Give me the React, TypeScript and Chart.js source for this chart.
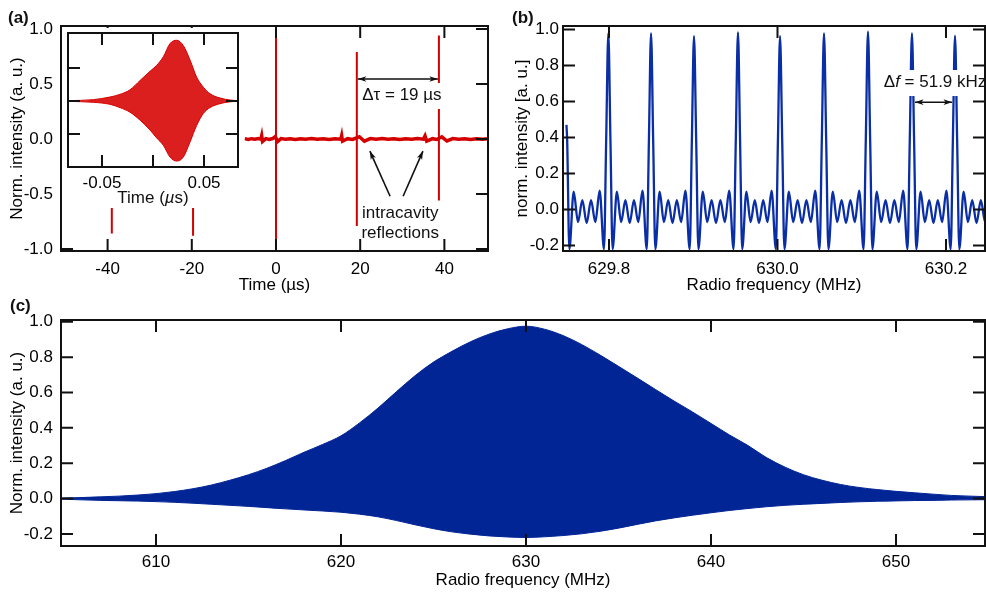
import React, { useEffect, useRef } from 'react';
import { Chart, registerables } from 'chart.js';

Chart.register(...registerables);

const FONT = '"Liberation Sans", Arial, Helvetica, sans-serif';
Chart.defaults.font.family = FONT;
Chart.defaults.color = '#000';

const RED = '#d40000';
const BLUE = '#0a2ea5';
const NAVY = '#022596';
const INK = '#111';

// ---------------- Panel (a): time trace ----------------
const aXTicks = [-40, -20, 0, 20, 40];
const aYTicks = [-1, -0.5, 0, 0.5, 1];
const aTraceTime = [
  -7.4, -6.6, -5.8, -5.0, -4.2, -3.6, -3.4, -3.2, -2.4, -1.6,
  -0.8, -0.2, 0.4, 1.2, 2.2, 3.4, 4.6, 5.8, 7.0, 8.4,
  9.8, 11.2, 12.6, 14.0, 15.4, 15.6, 15.8, 17.0, 18.2, 19.8,
  21.0, 22.4, 23.8, 25.2, 26.6, 28.0, 29.4, 30.8, 32.2, 33.6,
  35.0, 35.4, 35.8, 37.2, 38.2, 39.4, 40.6, 42.0, 43.4, 44.8,
  46.2, 47.6, 49.0, 50.4,
];
const aTraceValue = [
  0.003, -0.004, 0.003, -0.003, 0.004, -0.002, 0.03, -0.022, 0.003, -0.004,
  0.004, 0.022, -0.022, 0.004, -0.003, 0.003, -0.004, 0.003, -0.003, 0.004,
  -0.003, 0.003, -0.004, 0.003, -0.002, 0.03, -0.02, 0.003, -0.004, 0.02,
  -0.02, 0.004, -0.003, 0.004, -0.003, 0.003, -0.004, 0.003, -0.003, 0.004,
  -0.002, 0.028, -0.02, 0.003, -0.004, 0.02, -0.018, 0.004, -0.003, 0.003,
  -0.004, 0.003, -0.003, 0.002,
];
const aSpikeTime = [-39, -19.7, 0, 19.2, 38.7];
const aSpikeTop = [0.8, 0.8, 0.93, 0.79, 0.94];
const aSpikeBottom = [-0.86, -0.88, -1.05, -0.79, -0.56];
const aDeltaText = 'Δτ = 19 µs';
const aDeltaTextAt = [29.9, 0.4];
const aDeltaArrow = [19.2, 38.7, 0.545];
const aReflText = ['intracavity', 'reflections'];
const aReflTextAt = [29.5, -0.68, -0.855];
const aReflArrows = [
  [27.1, -0.52, 22.3, -0.11],
  [30.2, -0.52, 34.9, -0.11],
];

// inset of (a)
const inXTicks = [-0.05, 0, 0.05];
const inXLabels = ['-0.05', '', '0.05'];
const inYTicks = [-0.5, 0, 0.5];
const inTime = [-0.083, -0.0585, -0.0422, -0.0324, -0.0225, -0.0127, -0.0029, 0.0036, 0.0101, 0.0167, 0.0232, 0.0297, 0.0363, 0.0428, 0.0493, 0.0559, 0.0657, 0.0755, 0.083];
const inUpper = [0.005, 0.02, 0.06, 0.1, 0.17, 0.31, 0.45, 0.54, 0.67, 0.87, 0.92, 0.84, 0.62, 0.36, 0.21, 0.11, 0.045, 0.015, 0.005];
const inLower = [-0.005, -0.02, -0.05, -0.1, -0.17, -0.29, -0.44, -0.56, -0.67, -0.85, -0.91, -0.85, -0.62, -0.37, -0.19, -0.1, -0.04, -0.012, -0.005];

// ---------------- Panel (b): RF comb ----------------
const bXTicks = [629.8, 630.0, 630.2];
const bYTicks = [-0.2, 0, 0.2, 0.4, 0.6, 0.8, 1.0];
const bStartFreq = 629.7495;
const bStartValue = 0.47;
const bPeakFreq = [629.7478, 629.7992, 629.8499, 629.9009, 629.9531, 630.003, 630.0552, 630.1074, 630.1596, 630.2107];
const bPeakHeight = [0.98, 0.978, 0.978, 0.963, 0.983, 0.963, 0.978, 0.987, 0.978, 0.964];
const bLobeOffset = [0.05, 0.1, 0.2, 0.3, 0.4, 0.5, 0.6, 0.7, 0.8, 0.9, 0.95];
const bLobeValue = [0.38, -0.22, 0.1, -0.07, 0.052, -0.075, 0.052, -0.07, 0.105, -0.22, 0.38];
const bDeltaArrow = [630.1632, 630.2072, 0.596];
const bDeltaTextAt = [630.187, 0.708];

// ---------------- Panel (c): RF spectrum ----------------
const cXTicks = [610, 620, 630, 640, 650];
const cYTicks = [-0.2, 0, 0.2, 0.4, 0.6, 0.8, 1.0];
const cFreq = [
  604.9, 606, 607, 608, 609, 610, 611, 612, 613, 614, 615, 616, 617, 618, 619, 620, 621, 622, 623, 624,
  625, 626, 627, 628, 629, 630, 631, 632, 633, 634, 635, 636, 637, 638, 639, 640, 641, 642, 643, 644,
  645, 646, 647, 648, 649, 650, 651, 652, 653, 654, 654.9,
];
const cUpper = [
  0.003, 0.006, 0.01, 0.014, 0.02, 0.028, 0.04, 0.056, 0.077, 0.104, 0.135, 0.172, 0.215, 0.262, 0.306, 0.355, 0.428, 0.512, 0.605, 0.695,
  0.772, 0.833, 0.887, 0.93, 0.96, 0.975, 0.958, 0.922, 0.872, 0.812, 0.748, 0.683, 0.617, 0.552, 0.49, 0.425, 0.36, 0.3, 0.232, 0.178,
  0.135, 0.104, 0.08, 0.063, 0.051, 0.041, 0.033, 0.025, 0.018, 0.014, 0.011,
];
const cLower = [
  -0.003, -0.007, -0.01, -0.012, -0.014, -0.017, -0.021, -0.026, -0.032, -0.038, -0.044, -0.051, -0.058, -0.064, -0.07, -0.077, -0.088, -0.103, -0.124, -0.148,
  -0.17, -0.188, -0.201, -0.211, -0.217, -0.22, -0.216, -0.209, -0.199, -0.185, -0.167, -0.146, -0.126, -0.109, -0.094, -0.08, -0.067, -0.056, -0.046, -0.038,
  -0.032, -0.027, -0.022, -0.018, -0.015, -0.013, -0.011, -0.01, -0.008, -0.007, -0.006,
];

// ---------------- helpers ----------------
const xy = (xs: number[], ys: number[]) => xs.map((x, i) => ({ x, y: ys[i] }));

function buildCombPoints() {
  const pts: { x: number; y: number }[] = [{ x: bStartFreq, y: bStartValue }];
  bPeakFreq.forEach((p, i) => {
    const period = i < bPeakFreq.length - 1 ? bPeakFreq[i + 1] - p : p - bPeakFreq[i - 1];
    const local = [{ x: p, y: bPeakHeight[i] }, ...bLobeOffset.map((o, k) => ({ x: p + o * period, y: bLobeValue[k] }))];
    local.filter((pt) => pt.x > bStartFreq).forEach((pt) => pts.push(pt));
  });
  return pts;
}

const makeFrame = (xTicks: number[], yTicks: number[], len: number) => ({
  id: 'frame',
  afterDraw(chart: any) {
    const { ctx, chartArea } = chart;
    const { left, right, top, bottom } = chartArea;
    const sx = chart.scales.x;
    const sy = chart.scales.y;
    ctx.save();
    ctx.strokeStyle = INK;
    ctx.lineWidth = 2;
    ctx.beginPath();
    xTicks.forEach((v) => {
      const p = sx.getPixelForValue(v);
      ctx.moveTo(p, bottom);
      ctx.lineTo(p, bottom - len);
      ctx.moveTo(p, top);
      ctx.lineTo(p, top + len);
    });
    yTicks.forEach((v) => {
      const p = sy.getPixelForValue(v);
      ctx.moveTo(left, p);
      ctx.lineTo(left + len, p);
      ctx.moveTo(right, p);
      ctx.lineTo(right - len, p);
    });
    ctx.stroke();
    ctx.strokeRect(left, top, right - left, bottom - top);
    ctx.restore();
  },
});

function head(ctx: CanvasRenderingContext2D, x1: number, y1: number, x2: number, y2: number, size = 9) {
  const a = Math.atan2(y2 - y1, x2 - x1);
  ctx.beginPath();
  ctx.moveTo(x2, y2);
  ctx.lineTo(x2 - size * Math.cos(a - 0.32), y2 - size * Math.sin(a - 0.32));
  ctx.lineTo(x2 - size * 0.7 * Math.cos(a), y2 - size * 0.7 * Math.sin(a));
  ctx.lineTo(x2 - size * Math.cos(a + 0.32), y2 - size * Math.sin(a + 0.32));
  ctx.closePath();
  ctx.fill();
}

function arrow(ctx: CanvasRenderingContext2D, x1: number, y1: number, x2: number, y2: number, both: boolean) {
  ctx.beginPath();
  ctx.moveTo(x1, y1);
  ctx.lineTo(x2, y2);
  ctx.stroke();
  head(ctx, x1, y1, x2, y2);
  if (both) head(ctx, x2, y2, x1, y1);
}

function linearAxis(opts: {
  min: number; max: number; ticks: number[]; fmt: (v: number) => string; size: number; vertical: boolean;
  title?: string; titlePad?: any; tickPad: number; display?: boolean;
}) {
  return {
    type: 'linear',
    display: opts.display !== false,
    min: opts.min,
    max: opts.max,
    grid: { display: false, drawTicks: false },
    border: { display: false },
    afterBuildTicks: (s: any) => { s.ticks = opts.ticks.map((value) => ({ value })); },
    afterFit: (s: any) => { if (opts.vertical) s.width = opts.size; else s.height = opts.size; },
    ticks: {
      padding: opts.tickPad,
      autoSkip: false,
      maxRotation: 0,
      minRotation: 0,
      color: '#000',
      font: { size: 17, family: FONT },
      callback: (v: any) => opts.fmt(Number(v)),
    },
    title: opts.title
      ? { display: true, text: opts.title, color: '#000', font: { size: 17, family: FONT }, padding: opts.titlePad }
      : { display: false },
  };
}

const baseOptions = (padding: any) => ({
  responsive: false,
  maintainAspectRatio: false,
  animation: false,
  events: [],
  layout: { padding },
  plugins: { legend: { display: false }, tooltip: { enabled: false } },
});

// ---------------- chart configs ----------------
const annA = {
  id: 'annA',
  afterDatasetsDraw(chart: any) {
    const { ctx } = chart;
    const x = chart.scales.x;
    const y = chart.scales.y;
    ctx.save();
    ctx.font = `17px ${FONT}`;
    ctx.textAlign = 'center';
    ctx.textBaseline = 'middle';
    const tx = x.getPixelForValue(aDeltaTextAt[0]);
    const ty = y.getPixelForValue(aDeltaTextAt[1]);
    const w = ctx.measureText(aDeltaText).width;
    ctx.fillStyle = '#fff';
    ctx.fillRect(tx - w / 2 - 3, ty - 12, w + 6, 26);
    const rx = x.getPixelForValue(aReflTextAt[0]);
    const r1 = y.getPixelForValue(aReflTextAt[1]);
    const r2 = y.getPixelForValue(aReflTextAt[2]);
    const rw = Math.max(...aReflText.map((t) => ctx.measureText(t).width));
    ctx.fillRect(rx - rw / 2 - 2, r1 - 11, rw + 4, r2 - r1 + 22);
    ctx.fillStyle = '#111';
    ctx.fillText(aDeltaText, tx, ty);
    ctx.fillText(aReflText[0], rx, r1);
    ctx.fillText(aReflText[1], rx, r2);
    ctx.strokeStyle = '#111';
    ctx.lineWidth = 1.6;
    arrow(ctx, x.getPixelForValue(aDeltaArrow[0]) + 1, y.getPixelForValue(aDeltaArrow[2]), x.getPixelForValue(aDeltaArrow[1]) - 1, y.getPixelForValue(aDeltaArrow[2]), true);
    aReflArrows.forEach((a) => {
      arrow(ctx, x.getPixelForValue(a[0]), y.getPixelForValue(a[1]), x.getPixelForValue(a[2]), y.getPixelForValue(a[3]), false);
    });
    ctx.restore();
  },
};

function configA() {
  return {
    type: 'line',
    data: {
      datasets: [
        { data: xy(aTraceTime, aTraceValue), borderColor: RED, borderWidth: 3.5, pointRadius: 0, tension: 0 },
        ...aSpikeTime.map((t, i) => ({
          data: [{ x: t, y: aSpikeTop[i] }, { x: t, y: aSpikeBottom[i] }],
          borderColor: RED, borderWidth: 2, pointRadius: 0,
        })),
      ],
    },
    options: {
      ...baseOptions({ top: 26, right: 12, left: 0, bottom: 0 }),
      scales: {
        x: linearAxis({ min: -51.07, max: 50.36, ticks: aXTicks, fmt: (v) => String(v), size: 49, vertical: false, title: 'Time (µs)', titlePad: { top: 0, bottom: 4 }, tickPad: 8 }),
        y: linearAxis({ min: -1.018, max: 1.027, ticks: aYTicks, fmt: (v) => v.toFixed(1), size: 61, vertical: true, title: 'Norm. intensity (a. u.)', titlePad: { top: 6.8, bottom: 0 }, tickPad: 8 }),
      },
    },
    plugins: [annA, makeFrame(aXTicks, aYTicks, 12)],
  };
}

const insetTitle = {
  id: 'insetTitle',
  afterDraw(chart: any) {
    const { ctx } = chart;
    const cx = chart.scales.x.getPixelForValue(0);
    const cy = 170;
    const parts: [string, string][] = [['Time (', 'normal'], ['µ', 'italic'], ['s)', 'normal']];
    ctx.save();
    ctx.textBaseline = 'middle';
    ctx.textAlign = 'left';
    ctx.fillStyle = '#111';
    let total = 0;
    parts.forEach(([t, st]) => { ctx.font = `${st} 17px ${FONT}`; total += ctx.measureText(t).width; });
    let px = cx - total / 2;
    parts.forEach(([t, st]) => {
      ctx.font = `${st} 17px ${FONT}`;
      ctx.fillText(t, px, cy);
      px += ctx.measureText(t).width;
    });
    ctx.restore();
  },
};

function configInset() {
  return {
    type: 'line',
    data: {
      datasets: [
        { data: xy(inTime, inUpper), borderColor: RED, borderWidth: 1, backgroundColor: 'rgba(214,0,0,0.88)', fill: '+1', pointRadius: 0, cubicInterpolationMode: 'monotone' },
        { data: xy(inTime, inLower), borderColor: RED, borderWidth: 1, fill: false, pointRadius: 0, cubicInterpolationMode: 'monotone' },
      ],
    },
    options: {
      ...baseOptions({ top: 5, right: 4, left: 6, bottom: 0 }),
      scales: {
        x: linearAxis({ min: -0.0833, max: 0.0833, ticks: inXTicks, fmt: (v) => inXLabels[inXTicks.indexOf(v)] ?? '', size: 41, vertical: false, tickPad: 6 }),
        y: linearAxis({ min: -1.0, max: 1.03, ticks: inYTicks, fmt: (v) => v.toFixed(1), size: 0, vertical: true, tickPad: 0, display: false }),
      },
    },
    plugins: [makeFrame(inXTicks, inYTicks, 12), insetTitle],
  };
}

const annB = {
  id: 'annB',
  afterDatasetsDraw(chart: any) {
    const { ctx } = chart;
    const x = chart.scales.x;
    const y = chart.scales.y;
    ctx.save();
    const cx = x.getPixelForValue(bDeltaTextAt[0]);
    const cy = y.getPixelForValue(bDeltaTextAt[1]);
    const parts: [string, string][] = [['Δ', 'normal'], ['f', 'italic'], [' = 51.9 kHz', 'normal']];
    let total = 0;
    parts.forEach(([t, st]) => { ctx.font = `${st} 17px ${FONT}`; total += ctx.measureText(t).width; });
    ctx.fillStyle = '#fff';
    ctx.fillRect(cx - total / 2 - 4, cy - 12, total + 8, 26);
    ctx.fillStyle = '#111';
    ctx.textBaseline = 'middle';
    ctx.textAlign = 'left';
    let px = cx - total / 2;
    parts.forEach(([t, st]) => {
      ctx.font = `${st} 17px ${FONT}`;
      ctx.fillText(t, px, cy);
      px += ctx.measureText(t).width;
    });
    ctx.strokeStyle = '#111';
    ctx.lineWidth = 1.6;
    const ay = y.getPixelForValue(bDeltaArrow[2]);
    arrow(ctx, x.getPixelForValue(bDeltaArrow[0]), ay, x.getPixelForValue(bDeltaArrow[1]), ay, true);
    ctx.restore();
  },
};

function configB() {
  return {
    type: 'line',
    data: {
      datasets: [
        { data: buildCombPoints(), borderColor: BLUE, borderWidth: 2.3, pointRadius: 0, cubicInterpolationMode: 'monotone' },
      ],
    },
    options: {
      ...baseOptions({ top: 26, right: 1, left: 0, bottom: 0 }),
      scales: {
        x: linearAxis({ min: 629.7454, max: 630.2463, ticks: bXTicks, fmt: (v) => v.toFixed(1), size: 49, vertical: false, title: 'Radio frequency (MHz)', titlePad: { top: 0, bottom: 4 }, tickPad: 8 }),
        y: linearAxis({ min: -0.23, max: 1.019, ticks: bYTicks, fmt: (v) => v.toFixed(1), size: 63, vertical: true, title: 'norm. intensity [a. u.]', titlePad: { top: 11.8, bottom: 0 }, tickPad: 4 }),
      },
    },
    plugins: [annB, makeFrame(bXTicks, bYTicks, 12)],
  };
}

function configC() {
  return {
    type: 'line',
    data: {
      datasets: [
        { data: xy(cFreq, cUpper), borderColor: NAVY, borderWidth: 1, backgroundColor: NAVY, fill: '+1', pointRadius: 0, cubicInterpolationMode: 'monotone' },
        { data: xy(cFreq, cLower), borderColor: NAVY, borderWidth: 1, fill: false, pointRadius: 0, cubicInterpolationMode: 'monotone' },
      ],
    },
    options: {
      ...baseOptions({ top: 30, right: 1, left: 0, bottom: 0 }),
      scales: {
        x: linearAxis({ min: 604.865, max: 654.81, ticks: cXTicks, fmt: (v) => String(v), size: 46, vertical: false, title: 'Radio frequency (MHz)', titlePad: { top: 0, bottom: 1.8 }, tickPad: 6 }),
        y: linearAxis({ min: -0.268, max: 1.01, ticks: cYTicks, fmt: (v) => v.toFixed(1), size: 61, vertical: true, title: 'Norm. intensity (a. u.)', titlePad: { top: 7.3, bottom: 0 }, tickPad: 8 }),
      },
    },
    plugins: [makeFrame(cXTicks, cYTicks, 12)],
  };
}

function ChartCanvas(props: { make: () => any; left: number; top: number; width: number; height: number; bg?: string }) {
  const ref = useRef<HTMLCanvasElement | null>(null);
  useEffect(() => {
    if (!ref.current) return;
    const chart = new Chart(ref.current, props.make());
    return () => chart.destroy();
  }, []);
  return (
    <canvas
      ref={ref}
      width={props.width}
      height={props.height}
      style={{ position: 'absolute', left: props.left, top: props.top, width: props.width, height: props.height, background: props.bg ?? 'transparent' }}
    />
  );
}

const labelStyle = (left: number, top: number): React.CSSProperties => ({
  position: 'absolute', left, top, font: `bold 17px ${FONT}`, lineHeight: '17px', color: '#111',
});

export default function App() {
  return (
    <div style={{ position: 'absolute', left: 0, top: 0, width: 986, height: 592, background: '#fff', overflow: 'hidden' }}>
      <ChartCanvas make={configA} left={0} top={0} width={500} height={300} />
      <ChartCanvas make={configInset} left={62} top={28} width={180} height={180} bg="#fff" />
      <ChartCanvas make={configB} left={500} top={0} width={486} height={300} />
      <ChartCanvas make={configC} left={0} top={290} width={986} height={302} />
      <div style={labelStyle(8, 9)}>(a)</div>
      <div style={labelStyle(512, 9)}>(b)</div>
      <div style={labelStyle(10, 297)}>(c)</div>
    </div>
  );
}
